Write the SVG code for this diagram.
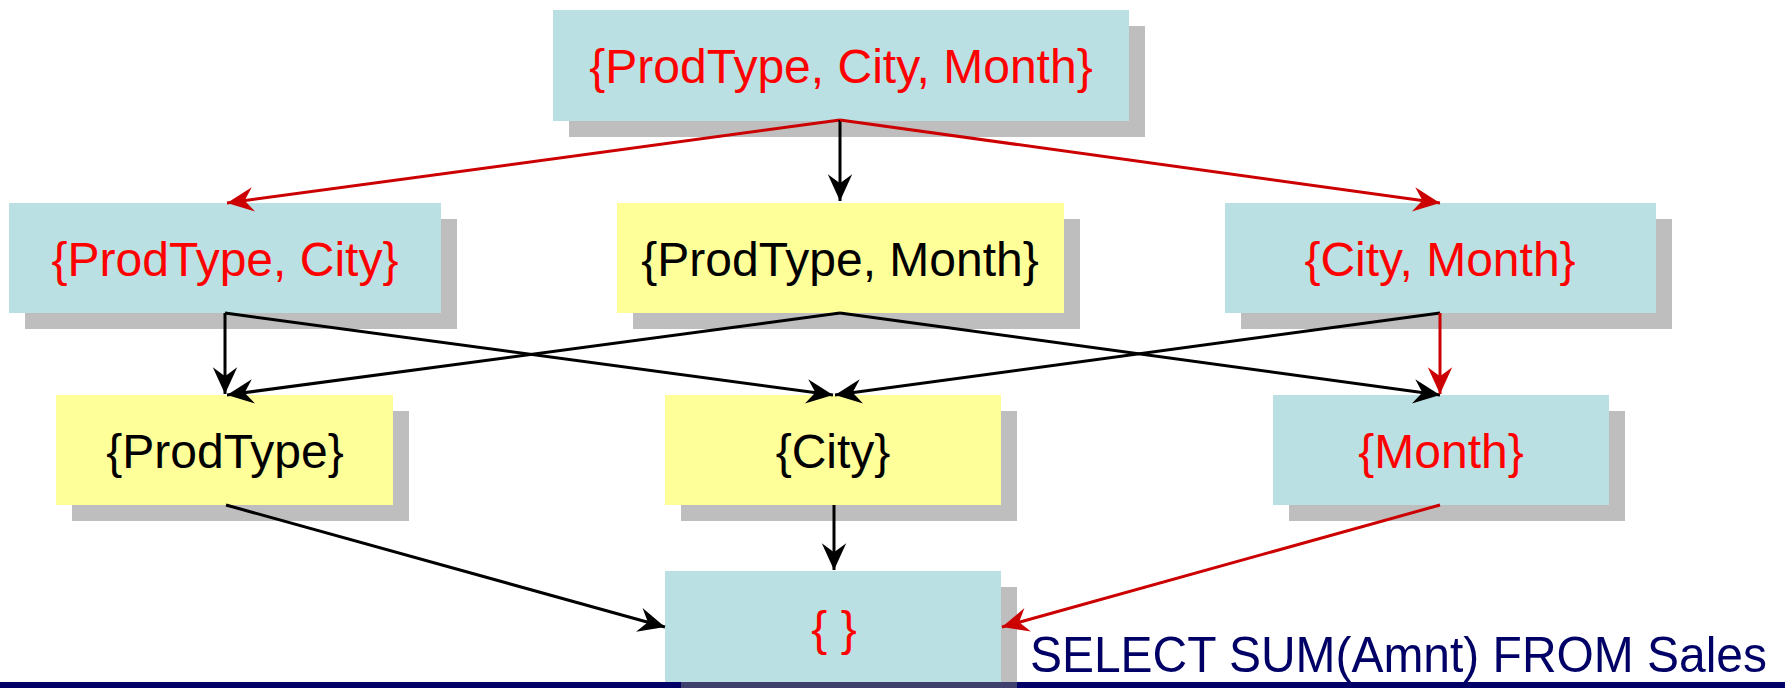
<svg xmlns="http://www.w3.org/2000/svg" width="1785" height="688" viewBox="0 0 1785 688">
<style>
.sh{fill:#bebebe}
.bl{fill:#bae0e3}
.ye{fill:#ffff99}
.t{font-family:"Liberation Sans",Arial,sans-serif;font-size:48px;text-anchor:middle}
.r{fill:#ff0000}
.k{fill:#000000}
.ck{stroke:#000;stroke-width:3;fill:none;marker-end:url(#ak)}
.cr{stroke:#cc0000;stroke-width:3;fill:none;marker-end:url(#ar)}
</style>
<defs>
<marker id="ak" markerUnits="userSpaceOnUse" markerWidth="30" markerHeight="30" viewBox="-25 -13 27 26" refX="0" refY="0" orient="auto">
<path d="M0,0 L-24,-11 L-16,0 L-24,11 Z" fill="#000"/>
</marker>
<marker id="ar" markerUnits="userSpaceOnUse" markerWidth="30" markerHeight="30" viewBox="-25 -13 27 26" refX="0" refY="0" orient="auto">
<path d="M0,0 L-24,-11 L-16,0 L-24,11 Z" fill="#cc0000"/>
</marker>
</defs>
<rect width="1785" height="688" fill="#fff"/>

<g id="n-pcm">
<rect class="sh" x="569" y="26" width="576" height="111"/>
<rect class="bl" x="553" y="10" width="576" height="111"/>
<text class="t r" x="841" y="83">{ProdType, City, Month}</text>
</g>
<g id="n-pc">
<rect class="sh" x="25" y="219" width="432" height="110"/>
<rect class="bl" x="9" y="203" width="432" height="110"/>
<text class="t r" x="225" y="276">{ProdType, City}</text>
</g>
<g id="n-pm">
<rect class="sh" x="633" y="219" width="447" height="110"/>
<rect class="ye" x="617" y="203" width="447" height="110"/>
<text class="t k" x="840" y="276">{ProdType, Month}</text>
</g>
<g id="n-cm">
<rect class="sh" x="1241" y="219" width="431" height="110"/>
<rect class="bl" x="1225" y="203" width="431" height="110"/>
<text class="t r" x="1440" y="276">{City, Month}</text>
</g>
<g id="n-p">
<rect class="sh" x="72" y="411" width="337" height="110"/>
<rect class="ye" x="56" y="395" width="337" height="110"/>
<text class="t k" x="225" y="468">{ProdType}</text>
</g>
<g id="n-c">
<rect class="sh" x="681" y="411" width="336" height="110"/>
<rect class="ye" x="665" y="395" width="336" height="110"/>
<text class="t k" x="833" y="468">{City}</text>
</g>
<g id="n-m">
<rect class="sh" x="1289" y="411" width="336" height="110"/>
<rect class="bl" x="1273" y="395" width="336" height="110"/>
<text class="t r" x="1441" y="468">{Month}</text>
</g>
<g id="n-e">
<rect class="sh" x="681" y="587" width="336" height="101"/>
<rect class="bl" x="665" y="571" width="336" height="117"/>
<text class="t r" x="834" y="645">{ }</text>
</g>

<g id="connectors">
<line class="cr" x1="840" y1="120" x2="227" y2="203"/>
<line class="ck" x1="840" y1="120" x2="840" y2="201"/>
<line class="cr" x1="840" y1="120" x2="1440" y2="203"/>
<polyline class="ck" points="225,313 225,394"/>
<line class="ck" x1="225" y1="313" x2="833" y2="395"/>
<line class="ck" x1="840" y1="313" x2="227" y2="395"/>
<line class="ck" x1="840" y1="313" x2="1440" y2="395"/>
<line class="ck" x1="1440" y1="313" x2="835" y2="395"/>
<line class="cr" x1="1440" y1="313" x2="1440" y2="394"/>
<line class="ck" x1="226" y1="505" x2="665" y2="627"/>
<line class="ck" x1="834" y1="505" x2="834" y2="570"/>
<line class="cr" x1="1440" y1="505" x2="1002" y2="627"/>
</g>

<g id="footer">
<rect x="0" y="682" width="1785" height="6" fill="#000066"/>
<rect x="681" y="682" width="336" height="6" fill="#40406e"/>
<text x="1030" y="672" font-family="'Liberation Sans',Arial,sans-serif" font-size="50" fill="#000066" textLength="737" lengthAdjust="spacingAndGlyphs">SELECT SUM(Amnt) FROM Sales</text>
</g>
</svg>
